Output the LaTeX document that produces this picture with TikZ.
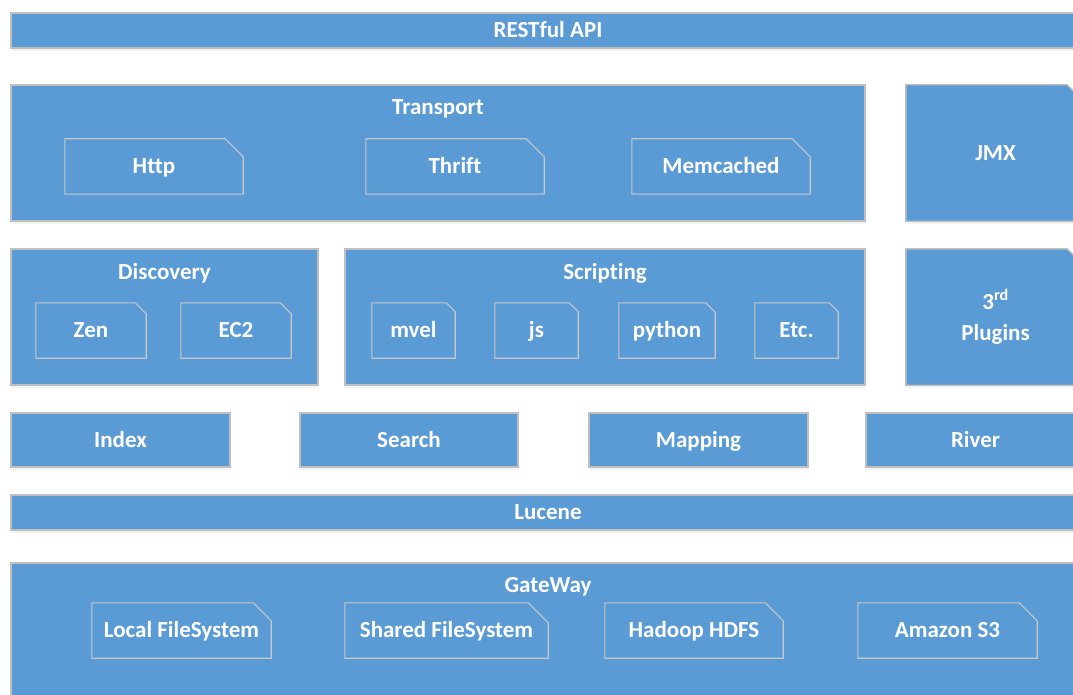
\documentclass[tikz,border=0pt]{standalone}
\usepackage{fontspec}
\setmainfont{Carlito}[Ligatures=NoCommon]
\usepackage{tikz}
\usetikzlibrary{positioning, shadows, backgrounds}
\usepackage{xcolor}
\definecolor{office}{HTML}{5B9BD5}
\definecolor{rim}{HTML}{BFBFBF}
\definecolor{leafrim}{HTML}{C8C8C8}

\begin{document}
\begin{tikzpicture}[x=1pt, y=-1pt,
        every node/.style={font=\fontsize{23}{27}\selectfont\bfseries, text=white},
        skin/.style={draw=rim, fill=office, line width=1.4pt, drop shadow={shadow xshift=0pt, shadow yshift=-3pt, opacity=0.10}},
        line/.style={text height=18pt, text depth=4pt},
        bar/.style={skin, line, inner sep=0pt, minimum height=35pt},
        module/.style={skin, line, inner sep=0pt, minimum height=54pt},
        group/.style={skin, inner sep=0pt, minimum height=136pt},
        extra/.style={inner sep=0pt, minimum height=136pt, align=center},
        leaf/.style={line, inner sep=0pt, minimum height=55pt},
        frame/.style={draw=leafrim, line width=1.1pt},
        title/.style={inner sep=0pt}
    ]
        \useasboundingbox (0,0) rectangle (1073,695);
        \clip (0,0) rectangle (1073,695);

        % API
        \node[bar, minimum width=1074pt] (api) at (548,30.5) {RESTful API};

        % TRANSPORT
        \node[group, minimum width=854pt] (transport) at (438,153) {};
        \node[title, below=15pt of transport.north] (transportT) {Transport};
        \node[leaf, minimum width=178pt] (http) at (154,166.5) {Http};
        \node[leaf, minimum width=178pt] (thrift) at (455,166.5) {Thrift};
        \node[leaf, minimum width=178pt] (memcached) at (721,166.5) {Memcached};

        \node[extra, minimum width=179pt] (jmx) at (995.5,153) {JMX};

        % DISCOVERY
        \node[group, minimum width=307pt] (discovery) at (164.5,317) {};
        \node[title, below=15pt of discovery.north] (discoveryT) {Discovery};
        \node[leaf, minimum width=110pt] (zen) at (91,330.5) {Zen};
        \node[leaf, minimum width=110pt] (ectwo) at (236,330.5) {EC2};

        % SCRIPTING
        \node[group, minimum width=520pt] (scripting) at (605,317) {};
        \node[title, below=15pt of scripting.north] (scriptingT) {Scripting};
        \node[leaf, minimum width=83pt] (mvel) at (413.5,330.5) {mvel};
        \node[leaf, minimum width=83pt] (js) at (536.5,330.5) {js};
        \node[leaf, minimum width=96pt] (python) at (667,330.5) {python};
        \node[leaf, minimum width=83pt] (etc) at (796.5,330.5) {Etc.};

        \node[extra, minimum width=179pt] (plugins) at (995.5,317) {3\textsuperscript{rd}\\[4pt]Plugins};

        % MODULES
        \node[module, minimum width=219pt] (index) at (120.5,440) {Index};
        \node[module, minimum width=218pt] (search) at (409,440) {Search};
        \node[module, minimum width=219pt] (mapping) at (698.5,440) {Mapping};
        \node[module, minimum width=219pt] (river) at (975.5,440) {River};

        % LUCENE
        \node[bar, minimum width=1074pt] (lucene) at (548,512.5) {Lucene};

        % GATEWAY
        \node[group, minimum width=1074pt, minimum height=157pt] (gateway) at (548,641.5) {};
        \node[title, below=15pt of gateway.north] (gatewayT) {GateWay};
        \node[leaf, minimum width=179pt] (local) at (181.5,630.5) {Local FileSystem};
        \node[leaf, minimum width=203pt] (shared) at (446.5,630.5) {Shared FileSystem};
        \node[leaf, minimum width=178pt] (hdfs) at (694,630.5) {Hadoop HDFS};
        \node[leaf, minimum width=179pt] (sthree) at (947.5,630.5) {Amazon S3};

        % SNIPPED CORNERS
        \begin{scope}[on background layer]
            \foreach \n in {jmx, plugins}
                \draw[skin] (\n.south west) |- ([xshift=-18pt]\n.north east) -- ([yshift=-18pt]\n.north east) |- cycle;
        \end{scope}
        \foreach \n/\c in {http/18, thrift/18, memcached/18, zen/11, ectwo/11, mvel/9, js/9, python/9.5, etc/9, local/18, shared/20, hdfs/18, sthree/18}
            \draw[frame] (\n.south west) |- ([xshift=-\c pt]\n.north east) -- ([yshift=-\c pt]\n.north east) |- cycle;
    \end{tikzpicture}
\end{document}
